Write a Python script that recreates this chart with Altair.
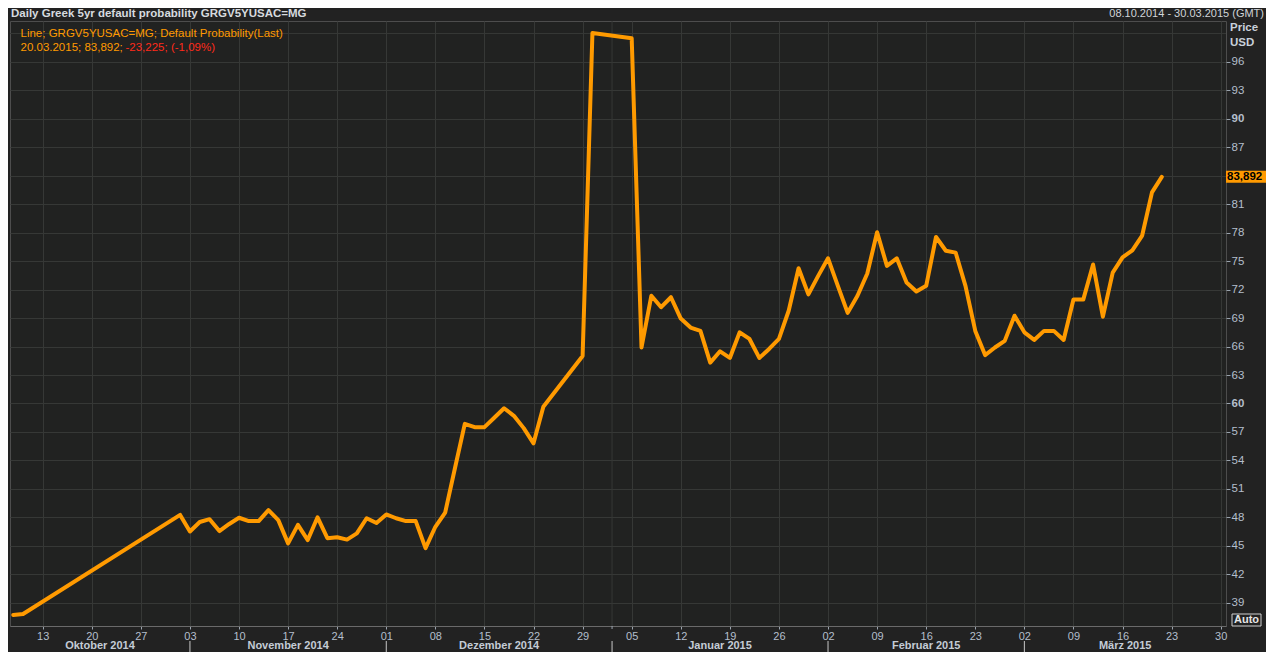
import altair as alt
import numpy as np
import pandas as pd

# ---------------- data ----------------
dates = [
    "2014-10-08", "2014-10-09", "2014-10-31",
    "2014-11-03", "2014-11-04", "2014-11-05", "2014-11-06", "2014-11-07",
    "2014-11-10", "2014-11-11", "2014-11-12", "2014-11-13", "2014-11-14",
    "2014-11-17", "2014-11-18", "2014-11-19", "2014-11-20", "2014-11-21",
    "2014-11-24", "2014-11-25", "2014-11-26", "2014-11-27", "2014-11-28",
    "2014-12-01", "2014-12-02", "2014-12-03", "2014-12-04", "2014-12-05",
    "2014-12-08", "2014-12-09", "2014-12-10", "2014-12-11", "2014-12-12",
    "2014-12-15", "2014-12-16", "2014-12-17", "2014-12-18", "2014-12-19",
    "2014-12-22", "2014-12-23", "2014-12-29", "2014-12-30",
    "2015-01-05", "2015-01-06", "2015-01-07", "2015-01-08", "2015-01-09",
    "2015-01-12", "2015-01-13", "2015-01-14", "2015-01-15", "2015-01-16",
    "2015-01-19", "2015-01-20", "2015-01-21", "2015-01-22", "2015-01-23",
    "2015-01-26", "2015-01-27", "2015-01-28", "2015-01-29", "2015-01-30",
    "2015-02-02", "2015-02-03", "2015-02-04", "2015-02-05", "2015-02-06",
    "2015-02-09", "2015-02-10", "2015-02-11", "2015-02-12", "2015-02-13",
    "2015-02-16", "2015-02-17", "2015-02-18", "2015-02-19", "2015-02-20",
    "2015-02-23", "2015-02-24", "2015-02-25", "2015-02-26", "2015-02-27",
    "2015-03-02", "2015-03-03", "2015-03-04", "2015-03-05", "2015-03-06",
    "2015-03-09", "2015-03-10", "2015-03-11", "2015-03-12", "2015-03-13",
    "2015-03-16", "2015-03-17", "2015-03-18", "2015-03-19", "2015-03-20",
]
values = [
    37.7, 37.8, 48.25,
    46.5, 47.5, 47.8, 46.55, 47.3,
    47.95, 47.6, 47.6, 48.75, 47.7,
    45.25, 47.2, 45.6, 48.0, 45.8,
    45.9, 45.65, 46.3, 47.9, 47.4,
    48.3, 47.9, 47.6, 47.6, 44.75,
    47.0, 48.5, 53.2, 57.85, 57.5,
    57.5, 58.5, 59.5, 58.7, 57.4,
    55.8, 59.65, 65.0, 99.05,
    98.5, 65.9, 71.35, 70.15, 71.2,
    68.95, 68.0, 67.65, 64.3, 65.5,
    64.8, 67.5, 66.8, 64.8, 65.75,
    66.8, 69.8, 74.25, 71.5, 73.45,
    75.3, 72.4, 69.55, 71.35, 73.7,
    78.05, 74.5, 75.3, 72.75, 71.8,
    72.4, 77.55, 76.1, 75.9, 72.4,
    67.65, 65.1, 65.9, 66.6, 69.25,
    67.5, 66.7, 67.65, 67.65, 66.7,
    70.95, 70.95, 74.65, 69.15, 73.8,
    75.4, 76.15, 77.7, 82.25, 83.892,
]

week_labels = ["13", "20", "27", "03", "10", "17", "24", "01", "08", "15",
               "22", "29", "05", "12", "19", "26", "02", "09", "16", "23",
               "02", "09", "16", "23", "30"]
month_names = ["Oktober 2014", "November 2014", "Dezember 2014",
               "Januar 2015", "Februar 2015", "März 2015"]
month_starts = ["2014-11-03", "2014-12-01", "2015-01-01", "2015-02-02", "2015-03-02"]
y_ticks = list(range(39, 97, 3))
y_extra_grid = [99]
bold_ticks = [60, 90]

title_text = "Daily Greek 5yr default probability GRGV5YUSAC=MG"
range_text = "08.10.2014 - 30.03.2015 (GMT)"
legend_line1 = "Line; GRGV5YUSAC=MG; Default Probability(Last)"
legend_line2a = "20.03.2015; 83,892; "
legend_line2b = "-23,225; (-1,09%)"

# ---------------- derived tables ----------------
ORIGIN = "2014-10-13"  # first weekly tick (Monday); x axis counts weekdays
X_DOM = [-3.33, 120.54]
Y_DOM = [36.54, 100.32]
W, H = 1216, 605

df = pd.DataFrame({
    "date": dates,
    "idx": np.busday_count(ORIGIN, np.array(dates, dtype="datetime64[D]")),
    "value": values,
})
week_idx = [5 * i for i in range(len(week_labels))]
start_idx = [int(v) for v in np.busday_count(ORIGIN, np.array(month_starts, dtype="datetime64[D]"))]
bounds = [X_DOM[0]] + start_idx + [X_DOM[1]]
month_df = pd.DataFrame({"name": month_names,
                         "mid": [(bounds[i] + bounds[i + 1]) / 2 for i in range(len(month_names))]})
sep_df = pd.DataFrame({"idx": start_idx})
extra_grid_df = pd.DataFrame({"idx": [i for i in start_idx if i not in week_idx]})
y_extra_df = pd.DataFrame({"value": y_extra_grid})
last_df = df.tail(1).copy()
last_value = float(last_df["value"].iloc[0])
last_df["label"] = [f"{v:.3f}".replace(".", ",") for v in last_df["value"]]

ORANGE = "#ff9a00"
GRID = "#363836"
LABEL = "#b4bfcc"
FONT = "Liberation Sans"

xs = alt.Scale(domain=X_DOM, nice=False, zero=False)
ys = alt.Scale(domain=Y_DOM, nice=False, zero=False)

x_label_expr = "[" + ",".join("'%s'" % s for s in week_labels) + "][round(datum.value/5)]"
# the value box of the last price hides the tick label beneath it
y_label_expr = "abs(datum.value - %s) < 1.6 ? '' : datum.label" % last_value

x_axis = alt.Axis(values=week_idx, labelExpr=x_label_expr, grid=True, gridColor=GRID,
                  ticks=True, tickSize=3, tickColor="#9aa3ad", domain=True,
                  domainColor="#6a6a6a", labelColor=LABEL, labelFont=FONT,
                  labelFontSize=11, labelPadding=1, labelFlush=False,
                  labelOverlap=False, labelBound=False, title=None)
y_axis = alt.Axis(orient="right", values=y_ticks, labelExpr=y_label_expr,
                  grid=True, gridColor=GRID,
                  ticks=True, tickSize=4, tickColor="#9aa3ad", domain=False,
                  labelColor=LABEL, labelFont=FONT, labelFontSize=11.5,
                  labelPadding=1, labelFontWeight=alt.condition(
                      " || ".join("datum.value == %d" % b for b in bold_ticks),
                      alt.value("bold"), alt.value("normal")),
                  labelOverlap=False, labelBound=False, title=None)


def X(field):
    return alt.X(field, scale=xs, axis=x_axis)


def Y(field):
    return alt.Y(field, scale=ys, axis=y_axis)


grid99 = alt.Chart(y_extra_df).mark_rule(color=GRID, strokeWidth=1).encode(
    y=Y("value:Q"), x=alt.value(0), x2=alt.value(W))

line = alt.Chart(df).mark_line(color=ORANGE, strokeWidth=4, strokeJoin="round",
                               strokeCap="round").encode(
    x=X("idx:Q"), y=Y("value:Q"))

grid_jan = alt.Chart(extra_grid_df).mark_rule(color=GRID, strokeWidth=1).encode(
    x=X("idx:Q"), y=alt.value(0), y2=alt.value(H))
tick_jan = alt.Chart(extra_grid_df).mark_rule(color="#9aa3ad", strokeWidth=1).encode(
    x=X("idx:Q"), y=alt.value(H), y2=alt.value(H + 3))

seps = alt.Chart(sep_df).mark_rule(color="#c8c8c8", strokeWidth=1).encode(
    x=X("idx:Q"), y=alt.value(H + 15), y2=alt.value(H + 31))

months = alt.Chart(month_df).mark_text(font=FONT, fontSize=11, fontWeight="bold",
                                       color="#c4ccd6", baseline="middle", align="center").encode(
    x=X("mid:Q"), y=alt.value(H + 20), text="name:N")

box = alt.Chart(last_df).mark_rule(color=ORANGE, strokeWidth=12, strokeCap="butt").encode(
    y=Y("value:Q"), x=alt.value(W), x2=alt.value(W + 44))
box_text = alt.Chart(last_df).mark_text(font=FONT, fontSize=11.5, fontWeight="bold",
                                        color="#000000", align="left", baseline="middle",
                                        dx=1).encode(
    y=Y("value:Q"), x=alt.value(W), text="label:N")


def label(txt, x, y, color, size=11.5, weight="normal", align="left", baseline="middle"):
    return alt.Chart(pd.DataFrame({"t": [txt]})).mark_text(
        font=FONT, fontSize=size, fontWeight=weight, color=color,
        align=align, baseline=baseline).encode(
        x=alt.value(x), y=alt.value(y), text="t:N")


title = label(title_text, 1, -4, "#d6dadf", size=11.5, weight="bold", baseline="alphabetic")
rng = label(range_text, W + 38, -4, "#d0d4d8", size=11, align="right", baseline="alphabetic")
leg1 = label(legend_line1, 10.5, 13, ORANGE)
leg2a = label(legend_line2a, 10.5, 26.5, ORANGE)
leg2b = label(legend_line2b, 115.5, 26.5, "#ff2a1a")
price = label("Price", W + 4, 7, "#c8d0da", size=11.5, weight="bold")
usd = label("USD", W + 4, 22, "#c8d0da", size=11.5, weight="bold")

auto_box = alt.Chart(pd.DataFrame({"t": ["Auto"]})).mark_rect(
    fill="#222222", stroke="#d0d0d0", strokeWidth=1).encode(
    x=alt.value(W + 6), x2=alt.value(W + 35), y=alt.value(H - 12), y2=alt.value(H))
auto_txt = label("Auto", W + 20.5, H - 6, "#e6e6e6", size=11, weight="bold", align="center")

chart = alt.layer(
    grid99, grid_jan, tick_jan, line, seps, months, box, box_text,
    title, rng, leg1, leg2a, leg2b, price, usd, auto_box, auto_txt,
).properties(
    width=W, height=H, autosize="none",
    padding={"left": 2, "top": 13, "right": 40, "bottom": 26},
    background="#222222",
).configure_view(fill="#212221", stroke="#4d4d4d", strokeWidth=1)

chart.save("out.html", embed_options={"renderer": "svg", "actions": False})
